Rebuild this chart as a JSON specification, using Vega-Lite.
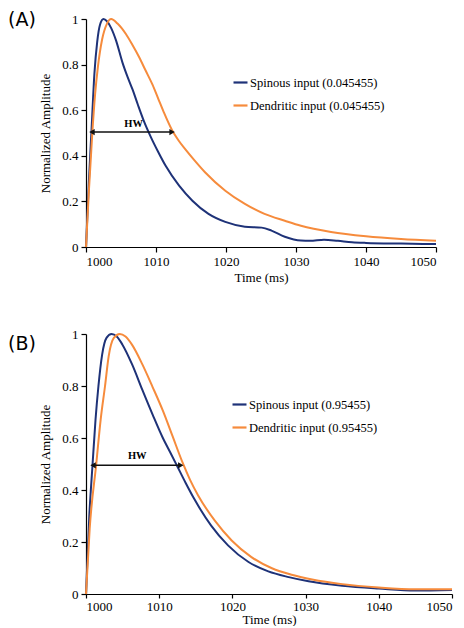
{
  "$schema": "https://vega.github.io/schema/vega-lite/v6.json",
  "padding": {"left": 8, "top": 11, "right": 0, "bottom": 0},
  "config": {
    "view": {"stroke": null},
    "font": "Times New Roman, Liberation Serif, serif",
    "style": {"guide-label": {"font": "Times New Roman, Liberation Serif, serif", "fontSize": 13, "fill": "#000"}, "guide-title": {"font": "Times New Roman, Liberation Serif, serif", "fontSize": 13, "fontWeight": "normal", "fill": "#000"}},
    "axis": {"domainColor": "#000", "tickColor": "#000", "labelColor": "#000", "titleColor": "#000", "labelFont": "Times New Roman, Liberation Serif, serif", "titleFont": "Times New Roman, Liberation Serif, serif", "labelFontSize": 13, "titleFontSize": 13, "titleFontWeight": "normal", "grid": false, "tickSize": 5, "labelPadding": 3, "domainWidth": 1.2, "tickWidth": 1.2},
    "legend": {"orient": "none", "title": null, "symbolType": "stroke", "symbolSize": 196, "symbolStrokeWidth": 2.2, "labelFont": "Times New Roman, Liberation Serif, serif", "labelFontSize": 12.5, "labelColor": "#000", "labelOffset": 1, "rowPadding": 8, "padding": 0}
  },
  "datasets": {
    "curves": [
      {"panel": "A", "series": "Spinous input (0.045455)", "t": 1000, "v": 0},
      {"panel": "A", "series": "Spinous input (0.045455)", "t": 1000.4, "v": 0.28},
      {"panel": "A", "series": "Spinous input (0.045455)", "t": 1000.8, "v": 0.52},
      {"panel": "A", "series": "Spinous input (0.045455)", "t": 1001.2, "v": 0.76},
      {"panel": "A", "series": "Spinous input (0.045455)", "t": 1001.6, "v": 0.9},
      {"panel": "A", "series": "Spinous input (0.045455)", "t": 1002, "v": 0.975},
      {"panel": "A", "series": "Spinous input (0.045455)", "t": 1002.5, "v": 1.0},
      {"panel": "A", "series": "Spinous input (0.045455)", "t": 1003, "v": 0.99},
      {"panel": "A", "series": "Spinous input (0.045455)", "t": 1003.6, "v": 0.96},
      {"panel": "A", "series": "Spinous input (0.045455)", "t": 1004.3, "v": 0.905},
      {"panel": "A", "series": "Spinous input (0.045455)", "t": 1005.2, "v": 0.81},
      {"panel": "A", "series": "Spinous input (0.045455)", "t": 1005.95, "v": 0.745},
      {"panel": "A", "series": "Spinous input (0.045455)", "t": 1006.66, "v": 0.69},
      {"panel": "A", "series": "Spinous input (0.045455)", "t": 1007.4, "v": 0.625},
      {"panel": "A", "series": "Spinous input (0.045455)", "t": 1008.3, "v": 0.55},
      {"panel": "A", "series": "Spinous input (0.045455)", "t": 1009.3, "v": 0.48},
      {"panel": "A", "series": "Spinous input (0.045455)", "t": 1010.3, "v": 0.418},
      {"panel": "A", "series": "Spinous input (0.045455)", "t": 1011.4, "v": 0.355},
      {"panel": "A", "series": "Spinous input (0.045455)", "t": 1013.3, "v": 0.269},
      {"panel": "A", "series": "Spinous input (0.045455)", "t": 1015.2, "v": 0.203},
      {"panel": "A", "series": "Spinous input (0.045455)", "t": 1017.5, "v": 0.145},
      {"panel": "A", "series": "Spinous input (0.045455)", "t": 1019.9, "v": 0.11},
      {"panel": "A", "series": "Spinous input (0.045455)", "t": 1022.7, "v": 0.089},
      {"panel": "A", "series": "Spinous input (0.045455)", "t": 1025.1, "v": 0.085},
      {"panel": "A", "series": "Spinous input (0.045455)", "t": 1026.5, "v": 0.072},
      {"panel": "A", "series": "Spinous input (0.045455)", "t": 1028.4, "v": 0.045},
      {"panel": "A", "series": "Spinous input (0.045455)", "t": 1030.7, "v": 0.028},
      {"panel": "A", "series": "Spinous input (0.045455)", "t": 1032, "v": 0.027},
      {"panel": "A", "series": "Spinous input (0.045455)", "t": 1034, "v": 0.032},
      {"panel": "A", "series": "Spinous input (0.045455)", "t": 1036, "v": 0.027},
      {"panel": "A", "series": "Spinous input (0.045455)", "t": 1038, "v": 0.021},
      {"panel": "A", "series": "Spinous input (0.045455)", "t": 1040, "v": 0.018},
      {"panel": "A", "series": "Spinous input (0.045455)", "t": 1045, "v": 0.015},
      {"panel": "A", "series": "Spinous input (0.045455)", "t": 1050, "v": 0.013},
      {"panel": "A", "series": "Dendritic input (0.045455)", "t": 1000, "v": 0},
      {"panel": "A", "series": "Dendritic input (0.045455)", "t": 1000.4, "v": 0.24},
      {"panel": "A", "series": "Dendritic input (0.045455)", "t": 1000.9, "v": 0.5},
      {"panel": "A", "series": "Dendritic input (0.045455)", "t": 1001.3, "v": 0.67},
      {"panel": "A", "series": "Dendritic input (0.045455)", "t": 1001.7, "v": 0.79},
      {"panel": "A", "series": "Dendritic input (0.045455)", "t": 1002.3, "v": 0.91},
      {"panel": "A", "series": "Dendritic input (0.045455)", "t": 1003, "v": 0.98},
      {"panel": "A", "series": "Dendritic input (0.045455)", "t": 1003.6, "v": 1.0},
      {"panel": "A", "series": "Dendritic input (0.045455)", "t": 1004.5, "v": 0.98},
      {"panel": "A", "series": "Dendritic input (0.045455)", "t": 1005.7, "v": 0.934},
      {"panel": "A", "series": "Dendritic input (0.045455)", "t": 1006.6, "v": 0.888},
      {"panel": "A", "series": "Dendritic input (0.045455)", "t": 1007.6, "v": 0.832},
      {"panel": "A", "series": "Dendritic input (0.045455)", "t": 1008.5, "v": 0.775},
      {"panel": "A", "series": "Dendritic input (0.045455)", "t": 1009.5, "v": 0.712},
      {"panel": "A", "series": "Dendritic input (0.045455)", "t": 1010.3, "v": 0.652},
      {"panel": "A", "series": "Dendritic input (0.045455)", "t": 1011.1, "v": 0.592},
      {"panel": "A", "series": "Dendritic input (0.045455)", "t": 1012.3, "v": 0.512},
      {"panel": "A", "series": "Dendritic input (0.045455)", "t": 1013.2, "v": 0.468},
      {"panel": "A", "series": "Dendritic input (0.045455)", "t": 1014.2, "v": 0.428},
      {"panel": "A", "series": "Dendritic input (0.045455)", "t": 1015.5, "v": 0.38},
      {"panel": "A", "series": "Dendritic input (0.045455)", "t": 1017, "v": 0.328},
      {"panel": "A", "series": "Dendritic input (0.045455)", "t": 1019.9, "v": 0.247},
      {"panel": "A", "series": "Dendritic input (0.045455)", "t": 1022.7, "v": 0.189},
      {"panel": "A", "series": "Dendritic input (0.045455)", "t": 1025.5, "v": 0.145},
      {"panel": "A", "series": "Dendritic input (0.045455)", "t": 1028.4, "v": 0.115},
      {"panel": "A", "series": "Dendritic input (0.045455)", "t": 1030.7, "v": 0.093},
      {"panel": "A", "series": "Dendritic input (0.045455)", "t": 1035, "v": 0.066},
      {"panel": "A", "series": "Dendritic input (0.045455)", "t": 1040, "v": 0.047},
      {"panel": "A", "series": "Dendritic input (0.045455)", "t": 1045, "v": 0.035},
      {"panel": "A", "series": "Dendritic input (0.045455)", "t": 1050, "v": 0.027},
      {"panel": "B", "series": "Spinous input (0.95455)", "t": 1000, "v": 0},
      {"panel": "B", "series": "Spinous input (0.95455)", "t": 1000.45, "v": 0.3},
      {"panel": "B", "series": "Spinous input (0.95455)", "t": 1000.9, "v": 0.5},
      {"panel": "B", "series": "Spinous input (0.95455)", "t": 1001.3, "v": 0.67},
      {"panel": "B", "series": "Spinous input (0.95455)", "t": 1001.7, "v": 0.8},
      {"panel": "B", "series": "Spinous input (0.95455)", "t": 1002.2, "v": 0.92},
      {"panel": "B", "series": "Spinous input (0.95455)", "t": 1002.8, "v": 0.985},
      {"panel": "B", "series": "Spinous input (0.95455)", "t": 1003.5, "v": 1.0},
      {"panel": "B", "series": "Spinous input (0.95455)", "t": 1004.2, "v": 0.99},
      {"panel": "B", "series": "Spinous input (0.95455)", "t": 1004.96, "v": 0.96},
      {"panel": "B", "series": "Spinous input (0.95455)", "t": 1006.3, "v": 0.883},
      {"panel": "B", "series": "Spinous input (0.95455)", "t": 1007.7, "v": 0.785},
      {"panel": "B", "series": "Spinous input (0.95455)", "t": 1009.1, "v": 0.69},
      {"panel": "B", "series": "Spinous input (0.95455)", "t": 1010.5, "v": 0.6},
      {"panel": "B", "series": "Spinous input (0.95455)", "t": 1011.5, "v": 0.545},
      {"panel": "B", "series": "Spinous input (0.95455)", "t": 1012.4, "v": 0.495},
      {"panel": "B", "series": "Spinous input (0.95455)", "t": 1013.6, "v": 0.428},
      {"panel": "B", "series": "Spinous input (0.95455)", "t": 1014.8, "v": 0.365},
      {"panel": "B", "series": "Spinous input (0.95455)", "t": 1017.1, "v": 0.263},
      {"panel": "B", "series": "Spinous input (0.95455)", "t": 1019.4, "v": 0.187},
      {"panel": "B", "series": "Spinous input (0.95455)", "t": 1022.2, "v": 0.123},
      {"panel": "B", "series": "Spinous input (0.95455)", "t": 1024.9, "v": 0.087},
      {"panel": "B", "series": "Spinous input (0.95455)", "t": 1027.7, "v": 0.065},
      {"panel": "B", "series": "Spinous input (0.95455)", "t": 1030.4, "v": 0.049},
      {"panel": "B", "series": "Spinous input (0.95455)", "t": 1035, "v": 0.032},
      {"panel": "B", "series": "Spinous input (0.95455)", "t": 1040, "v": 0.021},
      {"panel": "B", "series": "Spinous input (0.95455)", "t": 1045, "v": 0.013},
      {"panel": "B", "series": "Spinous input (0.95455)", "t": 1050, "v": 0.015},
      {"panel": "B", "series": "Dendritic input (0.95455)", "t": 1000, "v": 0},
      {"panel": "B", "series": "Dendritic input (0.95455)", "t": 1000.5, "v": 0.25},
      {"panel": "B", "series": "Dendritic input (0.95455)", "t": 1001.4, "v": 0.5},
      {"panel": "B", "series": "Dendritic input (0.95455)", "t": 1002, "v": 0.67},
      {"panel": "B", "series": "Dendritic input (0.95455)", "t": 1002.6, "v": 0.8},
      {"panel": "B", "series": "Dendritic input (0.95455)", "t": 1003.1, "v": 0.915},
      {"panel": "B", "series": "Dendritic input (0.95455)", "t": 1003.8, "v": 0.985},
      {"panel": "B", "series": "Dendritic input (0.95455)", "t": 1004.6, "v": 1.0},
      {"panel": "B", "series": "Dendritic input (0.95455)", "t": 1005.4, "v": 0.99},
      {"panel": "B", "series": "Dendritic input (0.95455)", "t": 1006.3, "v": 0.958},
      {"panel": "B", "series": "Dendritic input (0.95455)", "t": 1007.7, "v": 0.883},
      {"panel": "B", "series": "Dendritic input (0.95455)", "t": 1009.1, "v": 0.796},
      {"panel": "B", "series": "Dendritic input (0.95455)", "t": 1010.5, "v": 0.705},
      {"panel": "B", "series": "Dendritic input (0.95455)", "t": 1011.85, "v": 0.605},
      {"panel": "B", "series": "Dendritic input (0.95455)", "t": 1013.2, "v": 0.505},
      {"panel": "B", "series": "Dendritic input (0.95455)", "t": 1014.2, "v": 0.44},
      {"panel": "B", "series": "Dendritic input (0.95455)", "t": 1015.3, "v": 0.38},
      {"panel": "B", "series": "Dendritic input (0.95455)", "t": 1017.6, "v": 0.282},
      {"panel": "B", "series": "Dendritic input (0.95455)", "t": 1019.9, "v": 0.206},
      {"panel": "B", "series": "Dendritic input (0.95455)", "t": 1022.6, "v": 0.142},
      {"panel": "B", "series": "Dendritic input (0.95455)", "t": 1025.4, "v": 0.099},
      {"panel": "B", "series": "Dendritic input (0.95455)", "t": 1028.1, "v": 0.074},
      {"panel": "B", "series": "Dendritic input (0.95455)", "t": 1030.9, "v": 0.056},
      {"panel": "B", "series": "Dendritic input (0.95455)", "t": 1035, "v": 0.038},
      {"panel": "B", "series": "Dendritic input (0.95455)", "t": 1040, "v": 0.025},
      {"panel": "B", "series": "Dendritic input (0.95455)", "t": 1045, "v": 0.018},
      {"panel": "B", "series": "Dendritic input (0.95455)", "t": 1050, "v": 0.018}
    ],
    "hw": [
      {"panel": "A", "x1": 1000.85, "x2": 1012.3, "y": 0.504, "label_x": 1006.8, "label": "HW", "tag": "(A)"},
      {"panel": "B", "x1": 1000.96, "x2": 1012.95, "y": 0.495, "label_x": 1007.0, "label": "HW", "tag": "(B)"}
    ]
  },
  "spacing": 44,
  "resolve": {"scale": {"color": "independent"}, "legend": {"color": "independent"}},
  "vconcat": [
    {
      "width": 350,
      "height": 228,
      "layer": [
        {
          "data": {"name": "curves"},
          "transform": [{"filter": "datum.panel === 'A'"}],
          "mark": {"type": "line", "strokeWidth": 2, "interpolate": "monotone"},
          "encoding": {
            "x": {"field": "t", "type": "quantitative", "scale": {"domain": [1000, 1050], "nice": false}, "axis": {"title": "Time (ms)", "values": [1000, 1010, 1020, 1030, 1040, 1050], "format": "d", "titlePadding": 3}},
            "y": {"field": "v", "type": "quantitative", "scale": {"domain": [0, 1], "nice": false}, "axis": {"title": "Normalized Amplitude", "values": [0, 0.2, 0.4, 0.6, 0.8, 1], "format": "~g", "titlePadding": 9}},
            "color": {"field": "series", "type": "nominal", "scale": {"domain": ["Spinous input (0.045455)", "Dendritic input (0.045455)"], "range": ["#1e3278", "#f68b3c"]}, "legend": {"legendX": 146, "legendY": 55}}
          }
        },
        {
          "data": {"name": "hw"},
          "transform": [{"filter": "datum.panel === 'A'"}],
          "layer": [
            {"mark": {"type": "rule", "color": "#111", "strokeWidth": 1.5}, "encoding": {"x": {"field": "x1", "type": "quantitative"}, "x2": {"field": "x2"}, "y": {"field": "y", "type": "quantitative"}}},
            {"mark": {"type": "point", "shape": "triangle-left", "filled": true, "color": "#111", "size": 40, "opacity": 1, "dx": 2}, "encoding": {"x": {"field": "x1", "type": "quantitative"}, "y": {"field": "y", "type": "quantitative"}}},
            {"mark": {"type": "point", "shape": "triangle-right", "filled": true, "color": "#111", "size": 40, "opacity": 1}, "encoding": {"x": {"field": "x2", "type": "quantitative"}, "y": {"field": "y", "type": "quantitative"}}},
            {"mark": {"type": "text", "font": "Times New Roman, Liberation Serif, serif", "fontWeight": "bold", "fontSize": 10.5, "dy": -8, "color": "#000"}, "encoding": {"x": {"field": "label_x", "type": "quantitative"}, "y": {"field": "y", "type": "quantitative"}, "text": {"field": "label"}}},
            {"mark": {"type": "text", "font": "DejaVu Sans", "fontSize": 19, "align": "center", "baseline": "middle", "dx": -64, "dy": 1, "color": "#000"}, "encoding": {"x": {"datum": 1000, "type": "quantitative"}, "y": {"datum": 1, "type": "quantitative"}, "text": {"field": "tag"}}}
          ]
        }
      ]
    },
    {
      "width": 366,
      "height": 260,
      "layer": [
        {
          "data": {"name": "curves"},
          "transform": [{"filter": "datum.panel === 'B'"}],
          "mark": {"type": "line", "strokeWidth": 2, "interpolate": "monotone"},
          "encoding": {
            "x": {"field": "t", "type": "quantitative", "scale": {"domain": [1000, 1050], "nice": false}, "axis": {"title": "Time (ms)", "values": [1000, 1010, 1020, 1030, 1040, 1050], "format": "d", "titlePadding": 0, "labelPadding": 2, "tickSize": 4}},
            "y": {"field": "v", "type": "quantitative", "scale": {"domain": [0, 1], "nice": false}, "axis": {"title": "Normalized Amplitude", "values": [0, 0.2, 0.4, 0.6, 0.8, 1], "format": "~g", "titlePadding": 9}},
            "color": {"field": "series", "type": "nominal", "scale": {"domain": ["Spinous input (0.95455)", "Dendritic input (0.95455)"], "range": ["#1e3278", "#f68b3c"]}, "legend": {"legendX": 145, "legendY": 62}}
          }
        },
        {
          "data": {"name": "hw"},
          "transform": [{"filter": "datum.panel === 'B'"}],
          "layer": [
            {"mark": {"type": "rule", "color": "#111", "strokeWidth": 1.5}, "encoding": {"x": {"field": "x1", "type": "quantitative"}, "x2": {"field": "x2"}, "y": {"field": "y", "type": "quantitative"}}},
            {"mark": {"type": "point", "shape": "triangle-left", "filled": true, "color": "#111", "size": 40, "opacity": 1, "dx": 2}, "encoding": {"x": {"field": "x1", "type": "quantitative"}, "y": {"field": "y", "type": "quantitative"}}},
            {"mark": {"type": "point", "shape": "triangle-right", "filled": true, "color": "#111", "size": 40, "opacity": 1}, "encoding": {"x": {"field": "x2", "type": "quantitative"}, "y": {"field": "y", "type": "quantitative"}}},
            {"mark": {"type": "text", "font": "Times New Roman, Liberation Serif, serif", "fontWeight": "bold", "fontSize": 10.5, "dy": -9, "color": "#000"}, "encoding": {"x": {"field": "label_x", "type": "quantitative"}, "y": {"field": "y", "type": "quantitative"}, "text": {"field": "label"}}},
            {"mark": {"type": "text", "font": "DejaVu Sans", "fontSize": 19, "align": "center", "baseline": "middle", "dx": -64, "dy": 10, "color": "#000"}, "encoding": {"x": {"datum": 1000, "type": "quantitative"}, "y": {"datum": 1, "type": "quantitative"}, "text": {"field": "tag"}}}
          ]
        }
      ]
    }
  ]
}
